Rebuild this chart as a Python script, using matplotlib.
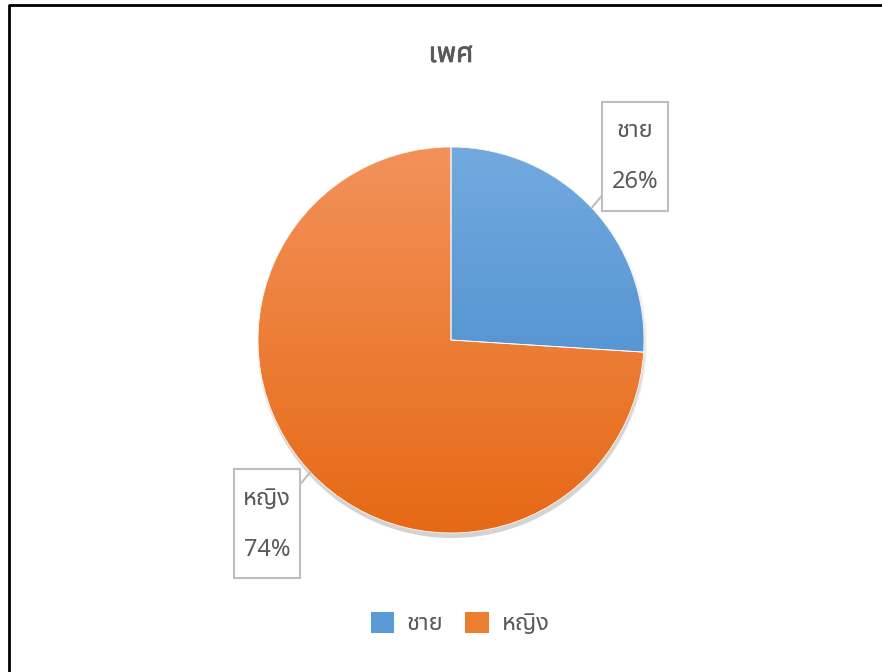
import numpy as np
import matplotlib
matplotlib.use("Agg")
import matplotlib.pyplot as plt
import matplotlib.patheffects as pe
from matplotlib import font_manager
from matplotlib.ft2font import FT2Font
from matplotlib.patches import Rectangle, Patch, Circle, Wedge
from matplotlib.colors import LinearSegmentedColormap

# ข้อมูล
categories = ["ชาย", "หญิง"]
values = [26, 74]
title = "เพศ"
colors_top = ["#72aade", "#f2925a"]
colors_bottom = ["#3f84c9", "#e66915"]
legend_colors = ["#5b9bd5", "#ed7d31"]

# หาฟอนต์ที่มีอักษรไทย
thai_fonts = []
for f in font_manager.fontManager.ttflist:
    try:
        if 0x0E0A in FT2Font(f.fname).get_charmap():
            thai_fonts.append(f.name)
    except Exception:
        pass
fam = []
for pref in ["Noto Sans Thai", "Tahoma", "Leelawadee UI", "Loma", "Garuda", "Sarabun"]:
    if pref in thai_fonts:
        fam.append(pref)
fam += [n for n in thai_fonts if n not in fam]
fam.append("DejaVu Sans")
plt.rcParams["font.family"] = fam

W, H = 882, 672
fig = plt.figure(figsize=(W / 100, H / 100), dpi=100)
ax = fig.add_axes([0, 0, 1, 1])

cx, cy, R = 451, H - 340, 193
txt_color = "#595959"

# เงา
for i, a in enumerate([0.04, 0.04, 0.05, 0.05]):
    ax.add_patch(Circle((cx + 1, cy - 3 - i), R + 2 - i, color="#000000", alpha=a, lw=0, zorder=1))

wedges, _ = ax.pie(values, center=(cx, cy), radius=R, startangle=90, counterclock=False,
                   wedgeprops=dict(linewidth=0, edgecolor="white"))

grad = np.linspace(1, 0, 256).reshape(-1, 1)
for w, ct, cb in zip(wedges, colors_top, colors_bottom):
    w.set_facecolor(cb)
    w.set_zorder(2)
    cmap = LinearSegmentedColormap.from_list("g", [cb, ct])
    im = ax.imshow(grad, cmap=cmap, extent=[cx - R, cx + R, cy - R, cy + R],
                   aspect="auto", zorder=3, origin="upper")
    im.set_clip_path(w)
    ax.add_patch(Wedge(w.center, w.r, w.theta1, w.theta2, fc="none", ec="white", lw=0.6, zorder=4))

# ป้ายข้อมูล
total = sum(values)
bw, bh = 66, 109
for cat, v, w in zip(categories, values, wedges):
    mid = np.deg2rad((w.theta1 + w.theta2) / 2)
    ex, ey = cx + R * np.cos(mid), cy + R * np.sin(mid)
    # วางกล่องตามแนวทแยงของจตุภาค
    q = np.deg2rad(45 + 90 * np.floor(np.rad2deg(mid) % 360 / 90))
    bx, by = cx + 260 * np.cos(q), cy + 260 * np.sin(q)
    ax.add_patch(Rectangle((bx - bw / 2, by - bh / 2), bw, bh, fc="white",
                           ec="#bfbfbf", lw=1.5, zorder=5))
    lx = bx - bw / 2 if np.cos(mid) > 0 else bx + bw / 2
    ly = by - bh / 2 + 15 if np.sin(mid) > 0 else by + bh / 2 - 15
    ax.plot([ex, lx], [ey, ly], color="#bfbfbf", lw=1.5, zorder=4.5, solid_capstyle="butt")
    ax.text(bx, by + 25, cat, ha="center", va="center", fontsize=17, color=txt_color, zorder=6)
    ax.text(bx, by - 26, f"{round(100 * v / total)}%", ha="center", va="center",
            fontsize=17, color=txt_color, zorder=6)

ax.text(cx, H - 55, title, ha="center", va="center", fontsize=20, fontweight="bold",
        color=txt_color, path_effects=[pe.withStroke(linewidth=0.5, foreground=txt_color)])

# กรอบ
ax.plot([9, 9, W], [0, H - 5, H - 5], color="black", lw=2, solid_capstyle="butt", zorder=7)

handles = [Patch(facecolor=c, edgecolor="none") for c in legend_colors]
fig.legend(handles, categories, loc="center", bbox_to_anchor=(460 / W, 1 - 624 / H), ncol=2,
           frameon=False, fontsize=17, labelcolor=txt_color, handlelength=1.0, handleheight=1.0,
           columnspacing=0.9, handletextpad=0.55)

ax.set_xlim(0, W)
ax.set_ylim(0, H)
ax.set_aspect("equal")
ax.axis("off")

fig.savefig("out.png", dpi=100, facecolor="white")
